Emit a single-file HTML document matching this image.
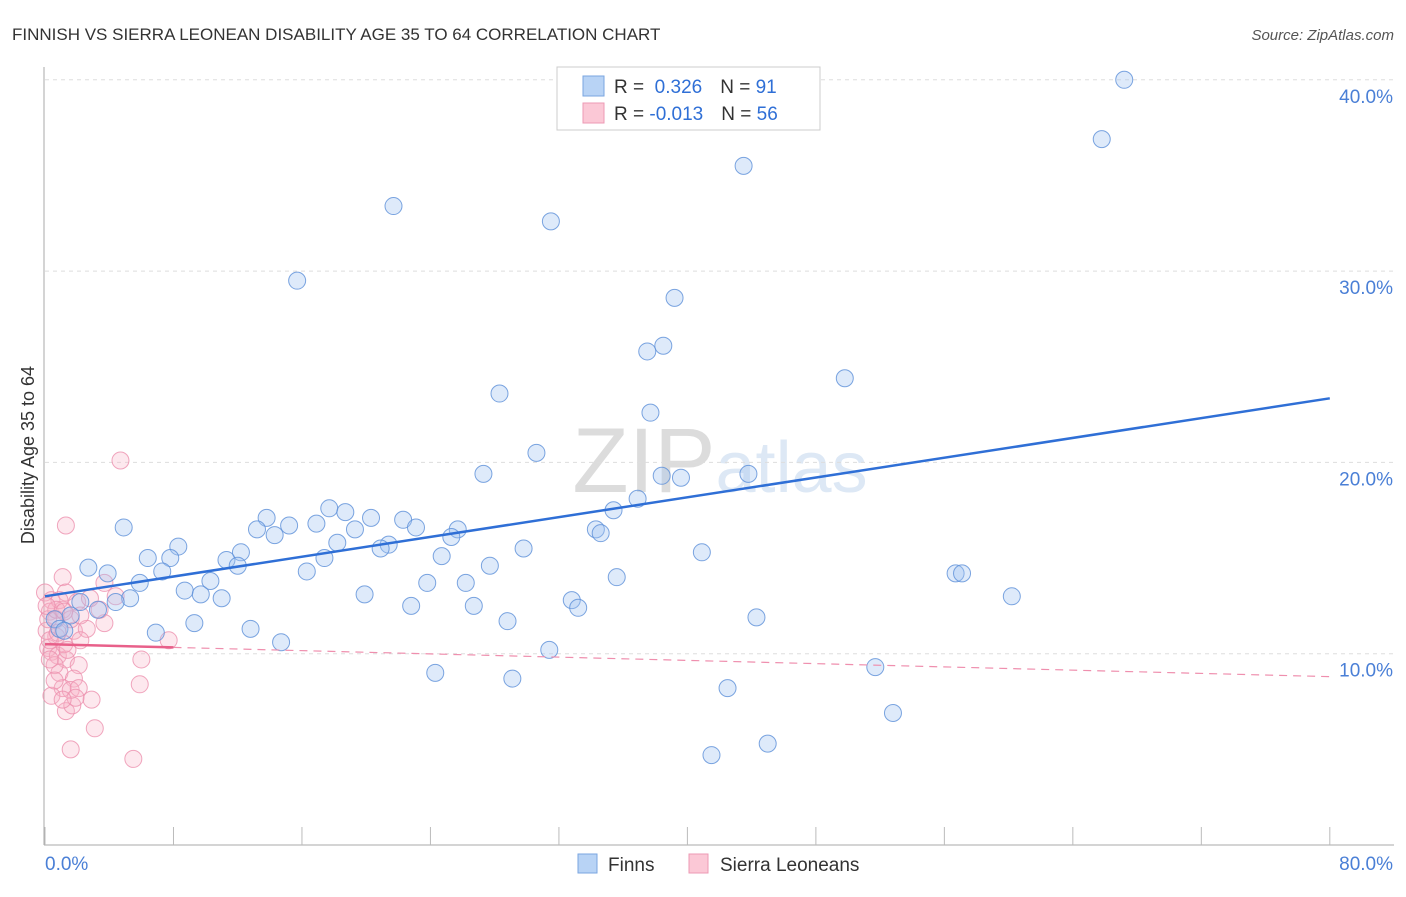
<!DOCTYPE html>
<html><head><meta charset="utf-8"><style>
body{margin:0;background:#fff;font-family:"Liberation Sans",sans-serif}
svg text{font-family:"Liberation Sans",sans-serif}
</style></head><body>
<svg id="chart" width="1406" height="892">
<text x="12" y="40" font-size="17" fill="#333">FINNISH VS SIERRA LEONEAN DISABILITY AGE 35 TO 64 CORRELATION CHART</text>
<text x="1394" y="40" font-size="15" fill="#555" font-style="italic" text-anchor="end">Source: ZipAtlas.com</text>
<text x="34" y="455" font-size="18" fill="#333" text-anchor="middle" transform="rotate(-90 34 455)">Disability Age 35 to 64</text>
<text x="720" y="492" font-size="92" fill="#ddd" text-anchor="middle" font-family="Liberation Serif"><tspan fill="#dcdcdc">ZIP</tspan><tspan font-size="72" fill="#dde8f5" font-family="Liberation Sans">atlas</tspan></text>
<g id="grid"></g><g id="axes"></g><g id="pink"></g><g id="blue"></g><g id="trend"></g>
<g>
<rect x="557" y="67" width="263" height="63" fill="#fff" stroke="#ccc"/>
<rect x="583" y="76" width="21" height="20" fill="#b8d3f5" stroke="#7aa6e0"/>
<rect x="583" y="103" width="21" height="20" fill="#fbc8d6" stroke="#ec9ab4"/>
<text x="614" y="93" font-size="19" fill="#333">R = <tspan fill="#2f6fd6">&#160;0.326</tspan><tspan dx="18">N = </tspan><tspan fill="#2f6fd6"> 91</tspan></text>
<text x="614" y="120" font-size="19" fill="#333">R = <tspan fill="#2f6fd6">-0.013</tspan><tspan dx="18">N = </tspan><tspan fill="#2f6fd6">56</tspan></text>
</g>
<g>
<rect x="578" y="854" width="19" height="19" fill="#b8d3f5" stroke="#7aa6e0"/>
<text x="608" y="871" font-size="19" fill="#333">Finns</text>
<rect x="689" y="854" width="19" height="19" fill="#fbc8d6" stroke="#ec9ab4"/>
<text x="720" y="871" font-size="19" fill="#333">Sierra Leoneans</text>
</g>
</svg>
<script>
const xTickLabels=["0.0%","80.0%"];
const yTicks=[10,20,30,40];
const blueX=[67.2,65.8,43.5,21.7,31.5,15.7,39.2,38.5,37.5,49.8,28.3,37.7,30.6,27.3,38.4,39.6,43.8,36.9,35.4,17.7,18.7,13.8,22.3,20.3,15.2,16.9,23.1,25.7,4.9,34.3,34.6,13.2,25.3,14.3,19.3,18.2,8.3,21.4,20.9,29.8,40.9,6.4,12.2,11.3,7.8,17.4,24.7,12.0,27.7,2.7,7.3,16.3,3.9,56.7,57.1,35.6,5.9,10.3,23.8,26.2,8.7,9.7,19.9,5.3,11.0,60.2,32.8,22.8,26.7,33.2,4.4,2.2,3.3,1.6,44.3,9.3,28.8,12.8,6.9,14.7,31.4,51.7,24.3,29.1,42.5,52.8,45.0,41.5,0.6,0.9,1.2];
const blueY=[40.0,36.9,35.5,33.4,32.6,29.5,28.6,26.1,25.8,24.4,23.6,22.6,20.5,19.4,19.3,19.2,19.4,18.1,17.5,17.6,17.4,17.1,17.0,17.1,16.7,16.8,16.6,16.5,16.6,16.5,16.3,16.5,16.1,16.2,16.5,15.8,15.6,15.7,15.5,15.5,15.3,15.0,15.3,14.9,15.0,15.0,15.1,14.6,14.6,14.5,14.3,14.3,14.2,14.2,14.2,14.0,13.7,13.8,13.7,13.7,13.3,13.1,13.1,12.9,12.9,13.0,12.8,12.5,12.5,12.4,12.7,12.7,12.3,12.0,11.9,11.6,11.7,11.3,11.1,10.6,10.2,9.3,9.0,8.7,8.2,6.9,5.3,4.7,11.8,11.3,11.2];
const pinkX=[4.7,1.3,1.1,0,1.3,0.4,2.0,3.7,0.3,1.1,0.7,1.8,2.6,0.7,3.7,4.4,7.7,0.2,0.4,0.8,1.3,6.0,2.1,0.9,1.8,1.1,1.6,0.4,2.1,5.9,2.9,1.3,1.7,3.1,1.6,5.5,0.1,0.3,0.6,1.2,2.2,0.9,0.2,0.7,1.6,1.4,0.6,1.9,1.1,0.3,0.8,0.1,1.2,2.2,3.4,2.8];
const pinkY=[20.1,16.7,14.0,13.2,13.2,12.8,12.7,13.7,12.2,12.3,11.8,11.2,11.3,10.9,11.6,13.0,10.7,10.3,10.1,9.9,9.7,9.7,9.4,9.0,8.7,8.2,8.1,7.8,8.2,8.4,7.6,7.0,7.3,6.1,5.0,4.5,11.2,10.7,9.4,10.5,10.7,12.8,11.8,12.3,11.8,10.2,8.6,7.7,7.6,9.7,11.1,12.5,12.2,12.0,12.3,12.9];
const blueTrend=[13.0,23.35];
const pinkTrend=[10.5,8.8];
const NS="http://www.w3.org/2000/svg";
const sx=v=>45+v*16.06, sy=v=>845-v*19.13;
function mk(tag,parent,attrs){const e=document.createElementNS(NS,tag);for(const k in attrs)e.setAttribute(k,attrs[k]);document.getElementById(parent).appendChild(e);return e;}
yTicks.forEach(t=>{
 const l=mk('line','grid',{x1:45,x2:1393,y1:sy(t),y2:sy(t),stroke:'#ddd','stroke-dasharray':'4,4'});
 
 
 const tx=mk('text','grid',{x:1393,y:sy(t)+23,'font-size':19,fill:'#4a7fd6','text-anchor':'end'});
 tx.textContent=t.toFixed(1)+'%';
 
 
});
const ya=mk('line','axes',{x1:44,x2:44,y1:67,y2:845,stroke:'#aaa'});


const xa=mk('line','axes',{x1:44,x2:1394,y1:845,y2:845,stroke:'#aaa'});


for(let i=0;i<=10;i++){const t=mk('line','axes',{x1:sx(i*8),x2:sx(i*8),y1:827,y2:845,stroke:'#bbb'});
 
 }
[[0,'start',45],[1,'end',1393]].forEach(([i,a,x])=>{const t=mk('text','axes',{x:x,y:870,'font-size':19,fill:'#4a7fd6','text-anchor':a});t.textContent=xTickLabels[i];
 
 });
pinkX.forEach((x,i)=>{const c=mk('circle','pink',{cx:sx(x),cy:sy(pinkY[i]),r:8.5,fill:'rgba(248,180,200,0.3)',stroke:'rgba(236,144,174,0.8)','stroke-width':1});
 
 });
blueX.forEach((x,i)=>{const c=mk('circle','blue',{cx:sx(x),cy:sy(blueY[i]),r:8.5,fill:'rgba(160,196,240,0.35)',stroke:'rgba(91,143,216,0.8)','stroke-width':1});
 
 });
const bt=mk('line','trend',{x1:sx(0),y1:sy(blueTrend[0]),x2:sx(80),y2:sy(blueTrend[1]),stroke:'#2f6fd6','stroke-width':2.5});


const pAt=x=>pinkTrend[0]+(pinkTrend[1]-pinkTrend[0])*x/80;
const pt=mk('line','trend',{x1:sx(0),y1:sy(pAt(0)),x2:sx(8),y2:sy(pAt(8)),stroke:'#e8608a','stroke-width':2.5});


const pd=mk('line','trend',{x1:sx(8),y1:sy(pAt(8)),x2:sx(80),y2:sy(pAt(80)),stroke:'#ef8fae','stroke-width':1.2,'stroke-dasharray':'8,6'});


</script>
</body></html>
